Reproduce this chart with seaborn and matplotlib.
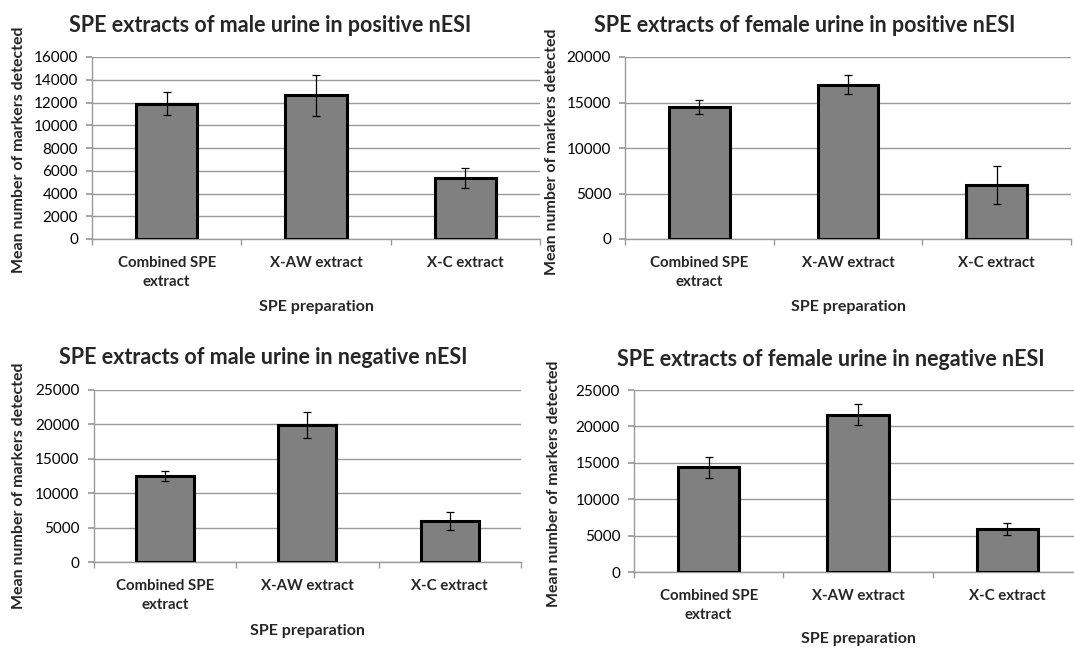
import numpy as np
import pandas as pd
import matplotlib
matplotlib.use("Agg")
import matplotlib.pyplot as plt
import seaborn as sns

# ── Data ──────────────────────────────────────────────────────────────────────
categories = ["Combined SPE\nextract", "X-AW extract", "X-C extract"]

titles = [
    "SPE extracts of male urine in positive nESI",
    "SPE extracts of female urine in positive nESI",
    "SPE extracts of male urine in negative nESI",
    "SPE extracts of female urine in negative nESI",
]

male_pos_mean = [11900, 12640, 5370]
male_pos_err = [1040, 1810, 890]
female_pos_mean = [14500, 16970, 5925]
female_pos_err = [800, 1075, 2120]
male_neg_mean = [12520, 19960, 5970]
male_neg_err = [725, 1885, 1285]
female_neg_mean = [14380, 21610, 5920]
female_neg_err = [1440, 1485, 850]

y_max = [16000, 20000, 25000, 25000]
y_step = [2000, 5000, 5000, 5000]

x_label = "SPE preparation"
y_label = "Mean number of markers detected"

# ── Style ─────────────────────────────────────────────────────────────────────
sns.set_theme(style="white")
plt.rcParams["font.family"] = ["Lato", "DejaVu Sans"]
plt.rcParams["axes.edgecolor"] = "#8c8c8c"

W, H = 1074, 648
fig = plt.figure(figsize=(W / 100, H / 100), dpi=100)

# axes boxes in pixels: x0, y0 (top), x1, y1 (bottom)
boxes = [(92, 57, 540, 239), (625, 57, 1071, 239),
         (93.5, 390, 521, 562), (634, 390, 1082, 572)]
title_xy = [(270, 25), (805, 25), (263, 357), (831, 359)]
ylab_xy = [(19, 150), (552, 152), (19, 486), (554, 484)]
xlab_y = [307, 307, 631, 639]

means = [male_pos_mean, female_pos_mean, male_neg_mean, female_neg_mean]
errs = [male_pos_err, female_pos_err, male_neg_err, female_neg_err]

grid_c = "#9a9a9a"

for i in range(4):
    x0, y0, x1, y1 = boxes[i]
    ax = fig.add_axes([x0 / W, 1 - y1 / H, (x1 - x0) / W, (y1 - y0) / H])
    df = pd.DataFrame({"prep": categories, "mean": means[i]})
    sns.barplot(data=df, x="prep", y="mean", order=categories,
                color="#808080", saturation=1, edgecolor="black",
                linewidth=2.2, width=0.41, ax=ax, zorder=3)
    ax.errorbar(np.arange(3), means[i], yerr=errs[i], fmt="none",
                ecolor="black", elinewidth=0.9, capsize=3, capthick=0.9,
                zorder=4)

    ax.set_xlim(-0.5, 2.5)
    ax.set_ylim(0, y_max[i])
    ax.set_yticks(np.arange(0, y_max[i] + 1, y_step[i]))
    ax.yaxis.grid(True, color=grid_c, linewidth=1)
    ax.set_axisbelow(True)
    for s in ["top", "right"]:
        ax.spines[s].set_visible(False)
    for s in ["left", "bottom"]:
        ax.spines[s].set_color(grid_c)
        ax.spines[s].set_linewidth(1)

    ax.tick_params(axis="y", which="major", direction="out", length=4,
                   color=grid_c, left=True, labelsize=11, pad=6,
                   labelcolor="black")
    ax.set_xticks([-0.5, 0.5, 1.5, 2.5], minor=True)
    ax.tick_params(axis="x", which="minor", direction="out", length=4,
                   color=grid_c, bottom=True)
    ax.tick_params(axis="x", which="major", length=0, pad=12,
                   labelsize=10.8)
    for lab in ax.get_xticklabels():
        lab.set_fontweight("bold")
        lab.set_multialignment("center")
        lab.set_linespacing(1.5)
    ax.set_xlabel("")
    ax.set_ylabel("")

    tx, ty = title_xy[i]
    fig.text(tx / W, 1 - ty / H, titles[i], ha="center", va="center",
             fontsize=15.5, fontweight="bold")
    lx, ly = ylab_xy[i]
    fig.text(lx / W, 1 - ly / H, y_label, ha="center", va="center",
             rotation=90, fontsize=11.5, fontweight="bold")
    fig.text(((x0 + x1) / 2) / W, 1 - xlab_y[i] / H, x_label, ha="center",
             va="center", fontsize=11.5, fontweight="bold")

fig.savefig("out.png", dpi=100)
